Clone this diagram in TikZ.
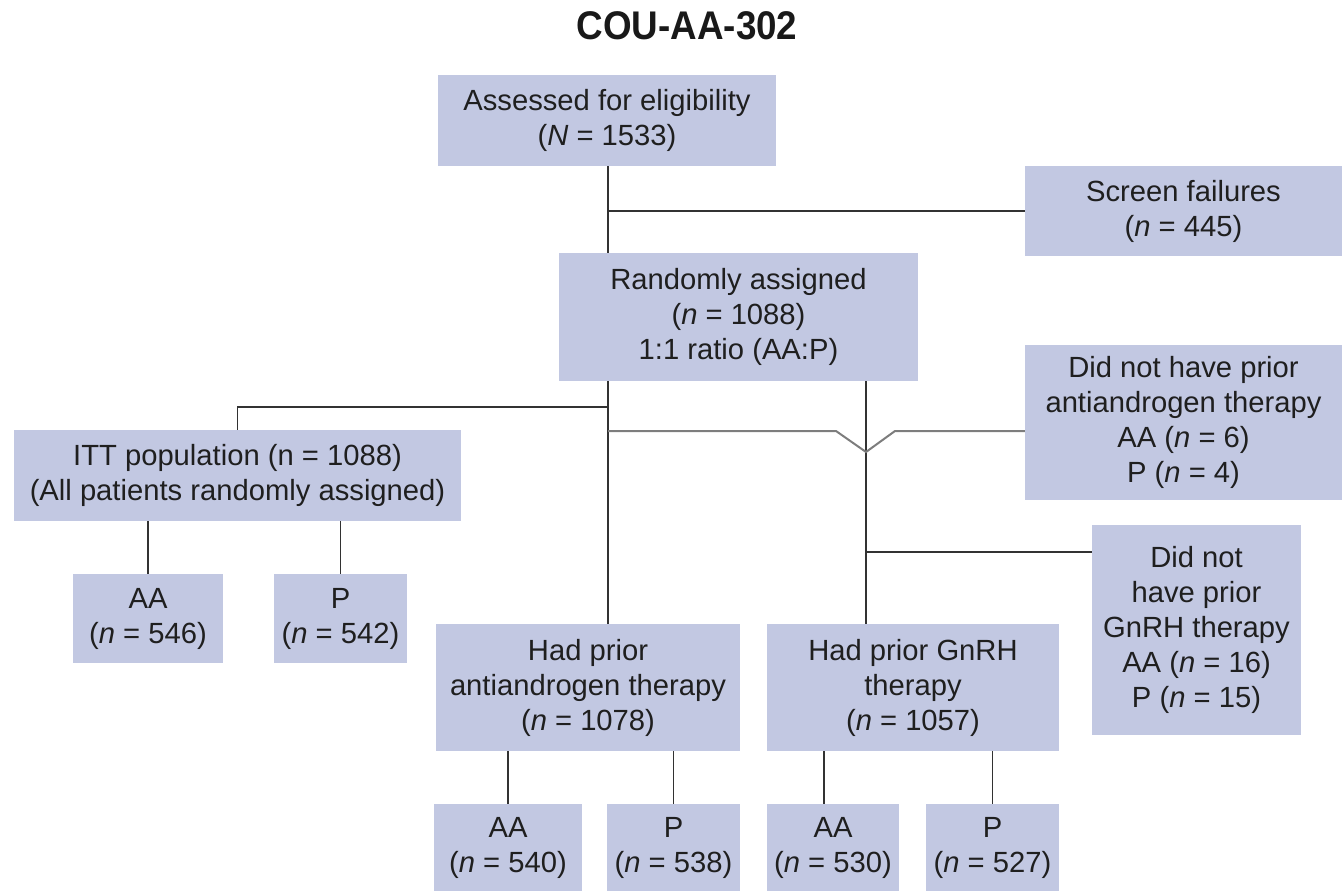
\documentclass[tikz,border=0pt]{standalone}
\usepackage{fontspec}
\setmainfont{Liberation Sans}
\newfontfamily\titlefont{Liberation Sans}[FakeStretch=0.92]
\usetikzlibrary{positioning}
\definecolor{boxfill}{RGB}{194,200,226}
\definecolor{linec}{RGB}{50,50,50}
\definecolor{grayl}{RGB}{125,125,125}
\newcommand\bodyfs{\fontsize{29.2}{35}\selectfont}
\newcommand\nn{\textit{n}}
\tikzset{
  fbox/.style={fill=boxfill, draw=none, inner sep=0pt, align=center, font=\bodyfs, text=black!88},
  conn/.style={draw=linec, line width=1.7pt},
  grayconn/.style={draw=grayl, line width=2pt},
}
\begin{document}
\begin{tikzpicture}[x=1pt,y=-1pt]
\useasboundingbox (0,0) rectangle (1342,891);
\node[font=\titlefont\fontsize{40}{42}\selectfont\bfseries, text=black!90] (title) at (687,26) {COU-AA-302};
\node[fbox, minimum width=338pt, minimum height=91pt] (assess) at (607,120.5) {Assessed for eligibility\\(\textit{N} = 1533)};
\node[fbox, minimum width=317pt, minimum height=90pt] (screen) at (1183.5,211) {Screen failures\\(\nn{} = 445)};
\node[fbox, minimum width=359pt, minimum height=128pt] (rand) at (738.5,317) {Randomly assigned\\(\nn{} = 1088)\\1:1 ratio (AA:P)};
\node[fbox, minimum width=317pt, minimum height=155pt] (noaa) at (1183.5,422.5) {Did not have prior\\antiandrogen therapy\\AA (\nn{} = 6)\\P (\nn{} = 4)};
\node[fbox, minimum width=447pt, minimum height=91pt] (itt) at (237.5,475.5) {ITT population (n = 1088)\\(All patients randomly assigned)};
\node[fbox, minimum width=150pt, minimum height=89pt] (aa1) at (148,618.5) {AA\\(\nn{} = 546)};
\node[fbox, minimum width=133pt, minimum height=89pt] (p1) at (340.5,618.5) {P\\(\nn{} = 542)};
\node[fbox, minimum width=209pt, minimum height=210pt] (nognrh) at (1196.5,630) {Did not\\have prior\\GnRH therapy\\AA (\nn{} = 16)\\P (\nn{} = 15)};
\node[fbox, minimum width=304pt, minimum height=127pt] (haa) at (588,687.5) {Had prior\\antiandrogen therapy\\(\nn{} = 1078)};
\node[fbox, minimum width=292pt, minimum height=127pt] (hgn) at (913,687.5) {Had prior GnRH\\therapy\\(\nn{} = 1057)};
\node[fbox, minimum width=148pt, minimum height=87pt] (aa2) at (508,847.5) {AA\\(\nn{} = 540)};
\node[fbox, minimum width=133pt, minimum height=87pt] (p2) at (673.5,847.5) {P\\(\nn{} = 538)};
\node[fbox, minimum width=132pt, minimum height=87pt] (aa3) at (833,847.5) {AA\\(\nn{} = 530)};
\node[fbox, minimum width=133pt, minimum height=87pt] (p3) at (992.5,847.5) {P\\(\nn{} = 527)};
% connectors
\coordinate (j1) at (608,211);
\coordinate (r1) at (608,0 |- rand.south);
\coordinate (j2) at (608,407);
\coordinate (r2) at (866,0 |- rand.south);
\coordinate (j3) at (866,552);
\coordinate (g1) at (608,431);
\coordinate (g2) at (836,431);
\coordinate (gv) at (866,452);
\coordinate (g3) at (895,431);
\draw[conn] (608,0 |- assess.south) -- (608,0 |- rand.north);
\draw[conn] (j1) -- (j1 -| screen.west);
\draw[conn] (r1) -- (r1 |- haa.north);
\draw[conn] (j2) -- (j2 -| itt.north) -- (itt.north);
\draw[conn] (r2) -- (r2 |- hgn.north);
\draw[conn] (j3) -- (j3 -| nognrh.west);
\draw[grayconn] (g1) -- (g2) -- (gv) -- (g3) -- (g3 -| noaa.west);
\draw[conn] (aa1.north |- itt.south) -- (aa1.north);
\draw[conn] (p1.north |- itt.south) -- (p1.north);
\draw[conn] (aa2.north |- haa.south) -- (aa2.north);
\draw[conn] (p2.north |- haa.south) -- (p2.north);
\draw[conn] ([xshift=-9pt]aa3.north |- hgn.south) -- ([xshift=-9pt]aa3.north);
\draw[conn] (p3.north |- hgn.south) -- (p3.north);
\end{tikzpicture}
\end{document}
